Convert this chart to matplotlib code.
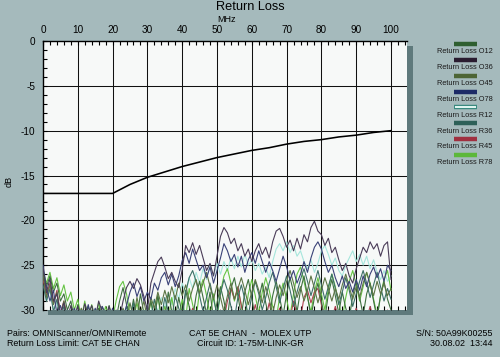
import numpy as np
import matplotlib.pyplot as plt
from matplotlib.lines import Line2D
from matplotlib.patches import Rectangle

plt.rcParams['font.family'] = ['Liberation Sans', 'DejaVu Sans']
plt.rcParams['axes.unicode_minus'] = False

W, H = 500, 357

# frequency grid of the measured traces (MHz)
freq = np.arange(0, 101, 1)

# CAT 5E channel limit
limit_freq = [0, 20, 25, 30, 35, 40, 45, 50, 55, 60, 65, 70, 75, 80, 85, 90, 95, 100]
limit_db = [-17.0, -17.0, -16.0, -15.2, -14.6, -14.0, -13.5, -13.0, -12.6, -12.2,
            -11.9, -11.5, -11.2, -11.0, -10.7, -10.5, -10.2, -10.0]

# measured return loss per pair (dB), values under -30 sit on the floor
rl_o12 = [-26.0, -27.4, -26.2, -28.0, -27.0, -29.0, -28.2, -30.0, -29.0, -31,
          -29.4, -31, -31, -29.6, -31, -31, -29.8, -31, -31, -29.5,
          -31, -31, -29.0, -27.5, -29.4, -31, -28.8, -31, -28.2, -30.4,
          -31, -29.0, -31, -28.4, -30.6, -31, -28.0, -30.2, -31, -28.6,
          -30.4, -27.8, -29.6, -31, -28.4, -26.8, -28.6, -30.4, -28.0, -31,
          -29.2, -27.4, -29.0, -31, -27.6, -26.4, -28.4, -30.6, -28.0, -26.6,
          -28.6, -31, -28.8, -27.0, -29.2, -31, -28.4, -26.8, -28.6, -30.6,
          -28.2, -26.4, -28.0, -30.2, -27.8, -26.2, -28.4, -30.8, -28.6, -27.0,
          -29.0, -31, -28.2, -26.6, -28.4, -30.4, -28.0, -29.8, -31, -28.4,
          -26.8, -28.6, -30.6, -28.2, -27.0, -29.0, -31, -28.4, -26.8, -28.8, -30.0]

rl_o36 = [-25.3, -28.0, -26.5, -29.0, -28.2, -30.5, -29.2, -31, -29.5, -31,
          -29.6, -31, -29.3, -30.5, -29.5, -31, -29.0, -30.2, -31, -29.6,
          -31, -30.0, -31, -29.0, -27.5, -26.8, -27.6, -26.5, -27.2, -28.5,
          -30.0, -27.0, -25.8, -24.6, -24.1, -25.2, -26.5, -25.8, -26.8, -27.5,
          -25.5, -22.8, -23.6, -22.5, -23.8, -22.8, -24.2, -25.6, -24.8, -26.2,
          -24.0, -21.8, -20.8, -21.4, -22.6, -22.0, -23.4, -22.6, -24.0, -23.2,
          -24.6, -23.4, -22.6, -23.8, -23.0, -24.2, -22.4, -21.2, -20.9, -21.8,
          -23.0, -22.2, -23.4, -22.0, -23.2, -21.6, -22.4, -20.8, -20.1, -21.2,
          -21.6, -22.8, -22.0, -23.6, -23.0, -24.4, -25.6, -24.8, -26.2, -27.0,
          -25.4, -24.2, -23.0, -23.6, -22.4, -23.2, -22.6, -24.0, -22.8, -22.4, -26.6]

rl_o45 = [-26.0, -28.6, -27.2, -29.4, -28.0, -30.6, -29.0, -31, -30.2, -31,
          -31, -29.8, -31, -31, -30.0, -31, -31, -29.6, -31, -31,
          -30.4, -31, -31, -29.8, -31, -29.2, -31, -28.6, -30.4, -29.0,
          -31, -28.6, -29.8, -28.0, -29.4, -27.8, -29.2, -27.4, -28.8, -27.0,
          -28.4, -27.2, -29.0, -27.6, -26.6, -28.2, -27.0, -25.8, -27.4, -28.8,
          -27.2, -28.6, -30.2, -28.4, -27.0, -28.8, -27.6, -26.4, -27.8, -29.4,
          -28.0, -26.6, -27.8, -29.2, -27.4, -28.8, -30.4, -28.6, -27.2, -28.4,
          -26.8, -25.6, -27.0, -28.6, -27.4, -29.0, -27.8, -26.2, -27.6, -29.2,
          -27.8, -26.4, -27.6, -29.0, -27.6, -28.8, -27.2, -26.0, -27.4, -28.8,
          -27.4, -28.6, -27.0, -25.8, -27.2, -28.4, -26.8, -28.2, -27.0, -28.4, -27.6]

rl_o78 = [-25.0, -27.5, -29.0, -27.8, -30.5, -29.5, -31, -30.0, -31, -29.8,
          -31, -30.2, -31, -29.4, -31, -29.8, -31, -29.6, -30.4, -31,
          -29.8, -31, -30.5, -31, -29.5, -28.0, -27.0, -28.5, -27.4, -29.0,
          -28.0, -28.8, -27.0, -27.8, -26.4, -25.8, -27.2, -26.0, -27.4, -26.2,
          -24.5, -23.6, -24.8, -23.2, -24.4, -25.6, -25.0, -26.4, -25.2, -27.0,
          -25.6, -24.2, -22.6, -23.4, -24.6, -23.8, -25.2, -24.0, -25.8, -24.4,
          -23.6, -24.8, -23.4, -24.6, -25.8, -24.6, -25.6, -26.8, -25.4, -24.0,
          -25.2, -26.6, -25.6, -27.0, -26.0, -24.6, -25.8, -24.2, -23.0, -22.4,
          -23.2, -24.6, -25.8, -25.0, -26.4, -27.4, -26.2, -27.6, -26.8, -28.0,
          -26.6, -27.8, -26.2, -27.4, -26.0, -25.2, -26.4, -25.4, -26.8, -25.0, -25.6]

rl_r12 = [-27.0, -29.0, -27.8, -30.0, -29.2, -31, -30.0, -31, -31, -30.4,
          -31, -30.6, -31, -31, -30.4, -31, -31, -31, -30.8, -31,
          -31, -30.4, -31, -31, -31, -30.6, -31, -31, -30.2, -31,
          -31, -30.2, -29.0, -30.4, -28.6, -29.8, -28.2, -29.4, -27.6, -28.8,
          -27.0, -28.2, -26.4, -27.6, -25.8, -27.0, -25.4, -26.6, -25.0, -26.2,
          -24.8, -26.0, -24.6, -25.6, -24.2, -25.4, -24.0, -25.2, -23.8, -25.0,
          -24.4, -25.6, -24.8, -26.0, -25.2, -26.4, -24.6, -23.2, -22.6, -23.4,
          -22.4, -23.6, -22.8, -24.0, -23.4, -24.6, -25.4, -24.4, -25.8, -24.8,
          -23.4, -22.8, -23.8, -25.0, -24.2, -25.6, -26.2, -25.0, -24.2, -23.4,
          -24.6, -23.8, -25.0, -24.0, -25.4, -24.4, -25.8, -26.6, -25.6, -26.8, -26.2]

rl_r36 = [-27.2, -29.0, -27.6, -30.2, -28.8, -31, -29.6, -31, -31, -30.2,
          -31, -31, -30.4, -31, -31, -30.6, -31, -31, -30.2, -31,
          -31, -30.4, -31, -31, -29.6, -31, -29.2, -31, -30.0, -31,
          -29.4, -31, -28.8, -30.4, -31, -28.6, -30.2, -31, -28.4, -29.8,
          -31, -28.0, -26.4, -25.6, -26.8, -28.4, -30.2, -28.6, -27.0, -28.8,
          -30.4, -28.2, -26.6, -27.8, -29.6, -31, -28.6, -27.2, -28.8, -30.6,
          -28.4, -26.8, -28.2, -30.0, -28.6, -27.0, -25.8, -27.4, -29.2, -27.6,
          -26.2, -27.8, -29.6, -28.0, -26.6, -25.4, -26.8, -28.4, -27.0, -25.6,
          -27.2, -28.8, -27.4, -26.0, -27.6, -29.4, -28.0, -26.4, -27.8, -29.6,
          -28.2, -26.8, -25.6, -27.0, -28.6, -27.2, -25.8, -27.4, -29.0, -27.6, -28.8]

rl_r45 = [-26.6, -28.4, -27.0, -29.2, -27.8, -30.4, -29.0, -31, -31, -31,
          -31, -31, -30.6, -31, -31, -31, -31, -30.4, -31, -31,
          -31, -31, -31, -30.2, -31, -31, -30.6, -31, -31, -31,
          -31, -30.4, -31, -31, -31, -30.0, -31, -31, -31, -31,
          -30.6, -31, -31, -29.8, -31, -31, -31, -30.4, -31, -31,
          -31, -30.0, -31, -29.0, -27.6, -28.8, -27.4, -29.6, -31, -30.2,
          -31, -29.4, -31, -30.0, -31, -29.2, -31, -31, -29.8, -31,
          -30.4, -31, -29.0, -30.6, -31, -28.6, -27.8, -29.2, -28.0, -27.6,
          -29.4, -31, -30.0, -31, -29.6, -31, -31, -30.2, -31, -31,
          -29.8, -31, -30.4, -31, -29.6, -31, -30.2, -31, -31, -30.0, -31]

rl_r78 = [-25.6, -27.0, -25.8, -27.6, -26.4, -28.4, -27.2, -29.0, -28.0, -30.0,
          -28.8, -31, -29.0, -31, -29.4, -31, -29.2, -31, -29.6, -31,
          -31, -29.0, -27.4, -26.8, -28.2, -30.4, -31, -29.2, -31, -30.0,
          -31, -29.0, -31, -28.4, -31, -29.6, -31, -28.6, -30.8, -31,
          -28.8, -31, -27.6, -29.4, -31, -27.8, -26.6, -28.4, -30.6, -28.2,
          -31, -28.0, -26.2, -25.4, -27.0, -29.0, -27.6, -29.4, -31, -28.2,
          -26.6, -28.4, -30.4, -28.0, -26.4, -27.8, -29.6, -31, -28.6, -27.0,
          -28.8, -30.6, -28.2, -26.0, -25.2, -26.8, -28.6, -30.2, -28.0, -26.4,
          -28.2, -30.0, -27.6, -26.0, -27.4, -29.2, -31, -28.6, -26.8, -25.6,
          -27.2, -29.0, -27.4, -25.8, -27.0, -28.8, -30.6, -28.4, -26.6, -25.6, -27.8]

pair_labels = ['Return Loss O12', 'Return Loss O36', 'Return Loss O45', 'Return Loss O78',
               'Return Loss R12', 'Return Loss R36', 'Return Loss R45', 'Return Loss R78']
pair_colors = ['#2f5f30', '#2a1c30', '#4d6535', '#1c2a66',
               '#a6e6dc', '#2d6058', '#a03040', '#5cb83a']
# the thin traces render lighter than the legend swatches
trace_colors = ['#3f7040', '#4a3c58', '#5d7545', '#3a4278',
                '#a6e6dc', '#3d7068', '#b04050', '#66c444']
pair_values = [rl_o12, rl_o36, rl_o45, rl_o78, rl_r12, rl_r36, rl_r45, rl_r78]
# drawing order (light cyan underneath, dark pairs on top)
draw_order = [4, 7, 6, 0, 5, 2, 3, 1]


def fx(px):
    return px / W


def fy(py):
    return 1 - py / H


fig = plt.figure(figsize=(W / 100, H / 100), dpi=100, facecolor='#a5babc')

# drop shadow behind the plot area
fig.patches.append(Rectangle((fx(48), fy(315)), (413 - 48) / W, (315 - 46) / H,
                             transform=fig.transFigure, facecolor='#5f7a7c',
                             edgecolor='none', zorder=0))

ax = fig.add_axes([fx(43), fy(310), (407 - 43) / W, (310 - 41) / H])
ax.set_zorder(2)
ax.set_facecolor('#f7f9f8')
ax.set_xlim(0, 104.6)
ax.set_ylim(-30, 0)

for x in range(10, 101, 10):
    ax.axvline(x, color='#111111', lw=0.75, zorder=1)
for y in range(-25, 0, 5):
    ax.axhline(y, color='#111111', lw=0.75, zorder=1)

for i in draw_order:
    ax.plot(freq, pair_values[i], color=trace_colors[i], lw=0.8, zorder=2 + draw_order.index(i))

ax.plot(limit_freq, limit_db, color='black', lw=1.15, zorder=20)

ax.xaxis.tick_top()
ax.set_xticks(np.arange(0, 101, 10))
ax.set_xticks(np.arange(0, 105, 2), minor=True)
ax.set_yticks(np.arange(-30, 1, 5))
ax.set_yticks(np.arange(-30, 0.5, 1), minor=True)
ax.tick_params(axis='x', which='both', direction='in', top=True, bottom=True,
               labeltop=True, labelbottom=False, length=3, width=0.8, labelsize=7.2, pad=4)
ax.tick_params(axis='y', which='both', direction='in', left=True, right=False,
               length=3, width=0.8, labelsize=7.2, pad=5.5)

for side in ['right', 'bottom']:
    ax.spines[side].set_visible(False)
for side in ['left', 'top']:
    ax.spines[side].set_linewidth(1.0)

fig.text(0.5, fy(7), 'Return Loss', ha='center', va='center', fontsize=9.2)
fig.text(fx(226), fy(19), 'MHz', ha='center', va='center', fontsize=6.5)
fig.text(fx(9), fy(181), 'dB', ha='center', va='center', rotation=90, fontsize=6.5)

# legend, stacked on the right
for k, (lab, col) in enumerate(zip(pair_labels, pair_colors)):
    ys = 44 + k * 15.86
    edge = '#3a8a80' if k == 4 else col
    fig.add_artist(Line2D([fx(454), fx(477)], [fy(ys), fy(ys)], color=edge, lw=3.2,
                          solid_capstyle='butt'))
    if k == 4:
        fig.add_artist(Line2D([fx(455), fx(476)], [fy(ys), fy(ys)], color='#e4f8f4', lw=1.4,
                              solid_capstyle='butt'))
    fig.text(fx(465), fy(ys + 7.8), lab, ha='center', va='center', fontsize=5.3, color='#1a1a1a')

fs = 6.4
fig.text(fx(7), fy(333), 'Pairs: OMNIScanner/OMNIRemote', ha='left', va='center', fontsize=fs)
fig.text(fx(7), fy(343), 'Return Loss Limit: CAT 5E CHAN', ha='left', va='center', fontsize=fs)
fig.text(fx(250), fy(333), 'CAT 5E CHAN  -  MOLEX UTP', ha='center', va='center', fontsize=fs)
fig.text(fx(250), fy(343), 'Circuit ID: 1-75M-LINK-GR', ha='center', va='center', fontsize=fs)
fig.text(fx(493), fy(333), 'S/N: 50A99K00255', ha='right', va='center', fontsize=fs)
fig.text(fx(492), fy(343), '30.08.02  13:44', ha='right', va='center', fontsize=fs)

fig.savefig('out.png', dpi=100, facecolor=fig.get_facecolor())
